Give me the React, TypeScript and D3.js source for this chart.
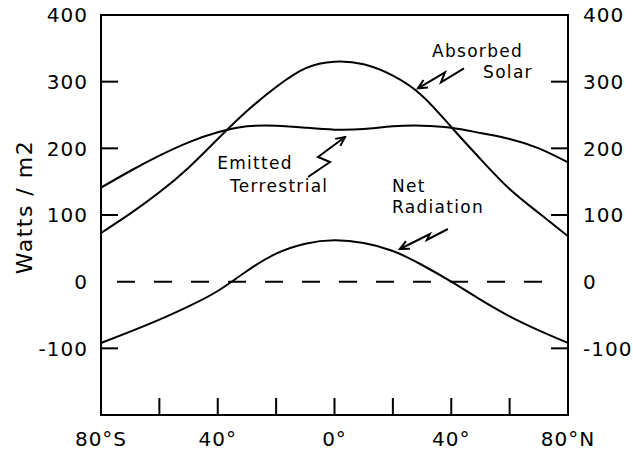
import React, { useEffect, useRef } from 'react';
import * as d3 from 'd3';

const latitudes = [-80, -70, -60, -50, -40, -30, -20, -10, 0, 10, 20, 30, 40, 50, 60, 70, 80];
const absorbedSolar = [73, 102, 134, 171, 214, 256, 292, 320, 330, 326, 309, 279, 232, 184, 139, 103, 68];
const emittedTerrestrial = [141, 166, 189, 209, 224, 233, 234, 231, 228, 229, 233, 234, 231, 223, 214, 200, 179];
const netRadiation = [-92, -75, -57, -37, -14, 16, 42, 57, 62, 58, 46, 25, 0, -27, -52, -73, -92];

const yTicks = [300, 200, 100, -100];
const yLabels = [400, 300, 200, 100, 0, -100];
const xTicks = [-60, -40, -20, 0, 20, 40, 60];
const xLabels = [-80, -40, 0, 40, 80];

const FONT = '"DejaVu Sans", sans-serif';

const App = () => {
  const ref = useRef<SVGSVGElement | null>(null);

  useEffect(() => {
    document.body.style.margin = '0';
    const width = 633;
    const height = 455;
    const left = 101, right = 568, top = 15, bottom = 415;

    const x = d3.scaleLinear().domain([-80, 80]).range([left, right]);
    const y = d3.scaleLinear().domain([-200, 400]).range([bottom, top]);

    const svg = d3.select(ref.current!);
    svg.selectAll('*').remove();
    svg.attr('width', width).attr('height', height);

    // frame
    svg.append('rect')
      .attr('x', left).attr('y', top)
      .attr('width', right - left).attr('height', bottom - top)
      .attr('fill', 'none').attr('stroke', '#000').attr('stroke-width', 2);

    const tickLen = 17;
    // y ticks, both sides, pointing in
    yTicks.forEach((t) => {
      svg.append('line').attr('x1', left).attr('x2', left + tickLen)
        .attr('y1', y(t)).attr('y2', y(t)).attr('stroke', '#000').attr('stroke-width', 2);
      svg.append('line').attr('x1', right).attr('x2', right - tickLen)
        .attr('y1', y(t)).attr('y2', y(t)).attr('stroke', '#000').attr('stroke-width', 2);
    });
    xTicks.forEach((t) => {
      svg.append('line').attr('x1', x(t)).attr('x2', x(t))
        .attr('y1', bottom).attr('y2', bottom - tickLen).attr('stroke', '#000').attr('stroke-width', 2);
    });

    // tick labels
    yLabels.forEach((t) => {
      svg.append('text').text(t)
        .attr('x', left - 13).attr('y', y(t)).attr('dy', '0.36em')
        .attr('text-anchor', 'end')
        .style('font-family', FONT).style('font-size', '20px').style('letter-spacing', '1px');
      svg.append('text').text(t)
        .attr('x', right + 15).attr('y', y(t)).attr('dy', '0.36em')
        .attr('text-anchor', 'start')
        .style('font-family', FONT).style('font-size', '20px').style('letter-spacing', '1px');
    });
    const latLabel = (d: number) => d === -80 ? '80°S' : d === 80 ? '80°N' : `${Math.abs(d)}°`;
    xLabels.forEach((t) => {
      svg.append('text').text(latLabel(t))
        .attr('x', x(t)).attr('y', 446)
        .attr('text-anchor', 'middle')
        .style('font-family', FONT).style('font-size', '20px').style('letter-spacing', '1px');
    });

    // axis title
    svg.append('text').text('Watts / m2')
      .attr('transform', `translate(32,${y(112)}) rotate(-90)`)
      .attr('text-anchor', 'middle')
      .style('font-family', FONT).style('font-size', '22px').style('letter-spacing', '1.5px');

    // zero line
    svg.append('line')
      .attr('x1', left + 16).attr('x2', right - 25)
      .attr('y1', y(0)).attr('y2', y(0))
      .attr('stroke', '#000').attr('stroke-width', 2)
      .attr('stroke-dasharray', '18,19');

    const line = d3.line<number>()
      .x((_, i) => x(latitudes[i]))
      .y((d) => y(d))
      .curve(d3.curveNatural);

    [absorbedSolar, emittedTerrestrial, netRadiation].forEach((series) => {
      svg.append('path')
        .attr('d', line(series))
        .attr('fill', 'none').attr('stroke', '#000').attr('stroke-width', 2);
    });

    // labels
    const notes = [
      { text: 'Absorbed', lat: 33.4, v: 337 },
      { text: 'Solar', lat: 50.9, v: 306 },
      { text: 'Emitted', lat: -40.2, v: 169 },
      { text: 'Terrestrial', lat: -35.8, v: 135 },
      { text: 'Net', lat: 19.7, v: 135 },
      { text: 'Radiation', lat: 19.7, v: 103 },
    ];
    notes.forEach((n) => {
      svg.append('text').text(n.text)
        .attr('x', x(n.lat)).attr('y', y(n.v))
        .style('font-family', FONT).style('font-size', '17px').style('letter-spacing', '1.3px');
    });

    // lightning arrows: tip in data space, bolt as pixel offsets from tip
    const arrows = [
      { lat: 28.6, v: 290, pts: [[46, -20], [23, -6], [27, -16], [0, 0]] },
      { lat: 3.6, v: 217, pts: [[-37, 40], [-15, 25], [-27, 20], [0, 0]] },
      { lat: 22.4, v: 49, pts: [[48, -20], [27, -9], [30, -15], [0, 0]] },
    ];
    arrows.forEach((a) => {
      const tx = x(a.lat), ty = y(a.v);
      const pts = a.pts.map(([dx, dy]) => [tx + dx, ty + dy] as [number, number]);
      svg.append('path')
        .attr('d', d3.line()(pts))
        .attr('fill', 'none').attr('stroke', '#000').attr('stroke-width', 2)
        .attr('stroke-linejoin', 'miter');
      const [px, py] = pts[pts.length - 2];
      const ang = Math.atan2(py - ty, px - tx);
      const len = 10, spread = 0.45;
      const head: [number, number][] = [
        [tx + len * Math.cos(ang - spread), ty + len * Math.sin(ang - spread)],
        [tx, ty],
        [tx + len * Math.cos(ang + spread), ty + len * Math.sin(ang + spread)],
      ];
      svg.append('path')
        .attr('d', d3.line()(head))
        .attr('fill', 'none').attr('stroke', '#000').attr('stroke-width', 2);
    });
  }, []);

  return <svg ref={ref} style={{ display: 'block' }} />;
};

export default App;
